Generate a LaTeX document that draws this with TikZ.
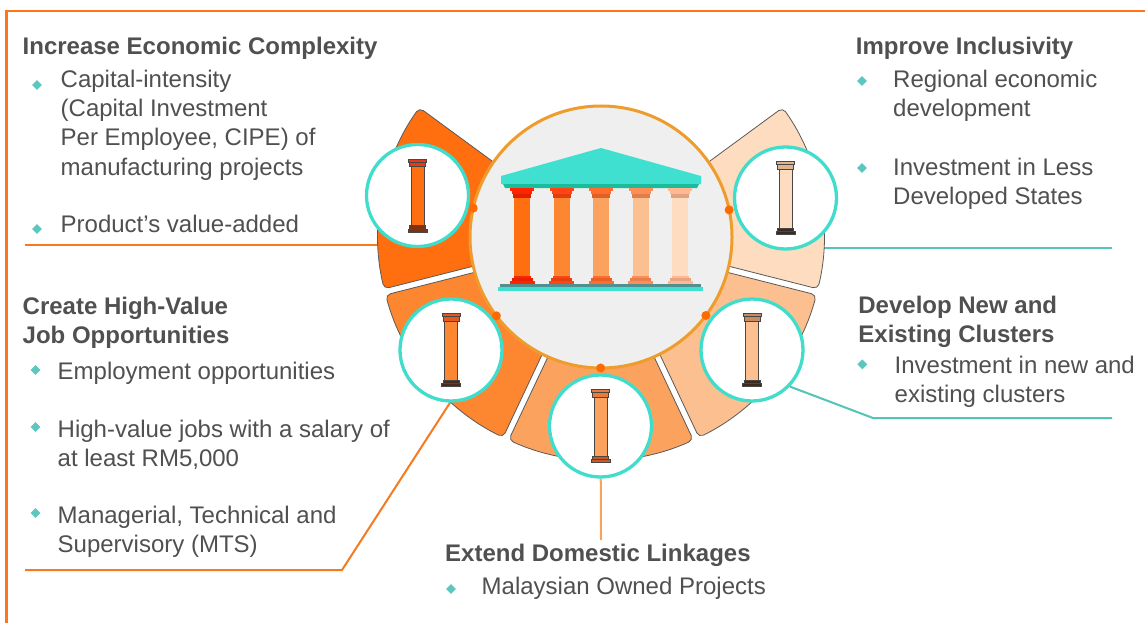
\documentclass[tikz,border=0pt]{standalone}
\usepackage{fontspec}
\setmainfont{Liberation Sans}
\usetikzlibrary{shapes.geometric,calc}
\pgfdeclarelayer{bg}
\pgfsetlayers{bg,main}

\definecolor{txt}{HTML}{505050}
\definecolor{frameor}{HTML}{FF7518}
\definecolor{lineor}{HTML}{F57A22}
\definecolor{lineltor}{HTML}{F9A35A}
\definecolor{lineteal}{HTML}{50C5B8}
\definecolor{bullet}{HTML}{5CC6BF}
\definecolor{hubring}{HTML}{EE9C2C}
\definecolor{hubfill}{HTML}{EFEFEF}
\definecolor{ring}{HTML}{40DDCC}
\definecolor{dot}{HTML}{FF6A00}
\definecolor{segedge}{HTML}{5A5A5A}
\definecolor{segA}{HTML}{FF6F0F}
\definecolor{segB}{HTML}{FD8630}
\definecolor{segC}{HTML}{FCA25F}
\definecolor{segD}{HTML}{FCBF8F}
\definecolor{segE}{HTML}{FDDCBF}
\definecolor{roof}{HTML}{40E0D0}
\definecolor{roofdk}{HTML}{1ABC9C}
\definecolor{plinth}{HTML}{4F9090}
\definecolor{capA}{HTML}{FF2400}
\definecolor{capB}{HTML}{FF4612}
\definecolor{capC}{HTML}{FF6C2C}
\definecolor{capD}{HTML}{FF8E56}
\definecolor{capE}{HTML}{FFB892}
\definecolor{icapA}{HTML}{E8381A}
\definecolor{icapB}{HTML}{E45A1E}
\definecolor{icapC}{HTML}{EE7A3A}
\definecolor{icapD}{HTML}{C88A62}
\definecolor{icapE}{HTML}{E2B48E}
\definecolor{ibaseA}{HTML}{7A3412}
\definecolor{ibaseB}{HTML}{4A2C1A}
\definecolor{ibaseC}{HTML}{C85A22}
\definecolor{ibaseD}{HTML}{3C2A20}
\definecolor{ibaseE}{HTML}{3A2C24}

% one column of the temple: centre x, shaft colour, capital colour
\newcommand\templecol[3]{%
  \fill[#2] ({#1-8},197.5) rectangle ({#1+8},276);
  \fill[#3] ({#1-12},187.7) rectangle ({#1+12},191);
  \fill[#3] ({#1-10},191) rectangle ({#1+10},194.3);
  \fill[#3!88!black] ({#1-9},194.3) rectangle ({#1+9},197.7);
  \fill[#3] ({#1-8.5},276) rectangle ({#1+8.5},278);
  \fill[#3!90!black] ({#1-10.5},278) rectangle ({#1+10.5},281);
  \fill[#3] ({#1-12.5},281) rectangle ({#1+12.5},284);
}

% small pillar icon inside a ring: node, shaft, capital, base colours
\newcommand\pillaricon[4]{%
  \begin{scope}[shift={(#1)}]
    \draw[pedge, fill=#2] (-6.5,-29) rectangle (6.5,30);
    \draw[pedge, fill=#3] (-8,-33.5) rectangle (8,-29);
    \draw[pedge, fill=#3] (-9,-36.5) rectangle (9,-33.5);
    \draw[pedge, fill=#4] (-8,30) rectangle (8,33.5);
    \draw[pedge, fill=#4] (-9.5,33.5) rectangle (9.5,36.5);
  \end{scope}
}

% annular sector of the outer ring: start angle, end angle, colour
\newcommand\ringsector[3]{%
  \draw[segline, fill=#3] (#1+0.8:223) arc[start angle=#1+0.8, end angle=#2-0.8, radius=223]
    -- (#2-1.8:100) arc[start angle=#2-1.8, end angle=#1+1.8, radius=100] -- cycle;
}

\begin{document}
\begin{tikzpicture}[x=1pt, y=-1pt,
  body/.style={anchor=base west, inner sep=0pt, text=txt, font=\fontsize{24}{29}\selectfont},
  head/.style={body, font=\fontsize{24}{29}\selectfont\bfseries},
  bul/.style={diamond, fill=bullet, inner sep=0pt, minimum size=10pt},
  hub/.style={circle, draw=hubring, line width=3pt, fill=hubfill, minimum size=262pt, inner sep=0pt},
  pcirc/.style={circle, draw=ring, line width=3.3pt, fill=white, minimum size=102pt, inner sep=0pt},
  pedge/.style={draw=black!72, line width=0.7pt},
  segline/.style={draw=segedge, line width=0.8pt, rounded corners=5pt},
  frame/.style={draw=frameor, line width=2.6pt},
  oline/.style={draw=lineor, line width=2pt},
  oline2/.style={draw=lineltor, line width=2pt},
  tline/.style={draw=lineteal, line width=2pt},
  ringdot/.style={fill=dot}
]
\useasboundingbox (0,0) rectangle (1145,623);

% outer frame
\draw[frame] (1145,11) -- (6.5,11) -- (6.5,623);

% central disc with the temple
\node[hub] (cc) at (601,237) {};
\fill[roof] (501,184) -- (501,176) -- (601,148) -- (701,176) -- (701,184) -- cycle;
\fill[roofdk] (503,184) -- (699,184) -- (697,188) -- (505,188) -- cycle;
\templecol{522}{segA}{capA}
\templecol{561.5}{segB}{capB}
\templecol{601}{segC}{capC}
\templecol{640.5}{segD}{capD}
\templecol{680}{segE}{capE}
\fill[plinth] (500,284) rectangle (701,286.8);
\fill[roof] (498,286.8) rectangle (703,290.8);

% pillar rings
\node[pcirc] (tl) at (417.5,195.5) {};
\node[pcirc] (ll) at (451,350) {};
\node[pcirc] (bc) at (600.5,426) {};
\node[pcirc] (rl) at (752,350) {};
\node[pcirc] (tr) at (785.5,198) {};
\pillaricon{tl}{segA}{icapA}{ibaseA}
\pillaricon{ll}{segB}{icapB}{ibaseB}
\pillaricon{bc}{segC}{icapC}{ibaseC}
\pillaricon{rl}{segD}{icapD}{ibaseD}
\pillaricon{tr}{segE}{icapE}{ibaseE}

% joints on the central ring
\coordinate (dtl) at ($(cc)!131pt!(tl)$);
\coordinate (dll) at ($(cc)!131pt!(ll)$);
\coordinate (dbc) at ($(cc)!131pt!(bc)$);
\coordinate (drl) at ($(cc)!131pt!(rl)$);
\coordinate (dtr) at ($(cc)!131pt!(tr)$);
\foreach \d in {dtl,dll,dbc,drl,dtr} \fill[ringdot] (\d) circle[radius=4.5];

% Increase Economic Complexity
\node[head] (h1) at (22.5,54.5) {Increase Economic Complexity};
\node[bul] (b11) at (37,85) {};
\node[body] (t11) at (60.5,88) {Capital-intensity};
\node[body] (t12) at (60.5,117) {(Capital Investment};
\node[body] (t13) at (60.5,146) {Per Employee, CIPE) of};
\node[body] (t14) at (60.5,175) {manufacturing projects};
\node[bul] (b12) at (37,229) {};
\node[body] (t15) at (60.5,232) {Product’s value-added};

% Create High-Value Job Opportunities
\node[head] (h2a) at (22.5,314) {Create High-Value};
\node[head] (h2b) at (22.5,343) {Job Opportunities};
\node[bul] (b21) at (35.5,370) {};
\node[body] (t21) at (57.5,379) {Employment opportunities};
\node[bul] (b22) at (35.5,427) {};
\node[body] (t22) at (57.5,437) {High-value jobs with a salary of};
\node[body] (t23) at (57.5,466) {at least RM5,000};
\node[bul] (b23) at (35.5,513) {};
\node[body] (t24) at (57.5,523) {Managerial, Technical and};
\node[body] (t25) at (57.5,552) {Supervisory (MTS)};

% Improve Inclusivity
\node[head] (h3) at (855.7,55) {Improve Inclusivity};
\node[bul] (b31) at (862,81) {};
\node[body] (t31) at (893,88) {Regional economic};
\node[body] (t32) at (893,117) {development};
\node[bul] (b32) at (862,168) {};
\node[body] (t33) at (893,175) {Investment in Less};
\node[body] (t34) at (893,204) {Developed States};

% Develop New and Existing Clusters
\node[head] (h4a) at (858.2,313) {Develop New and};
\node[head] (h4b) at (858.2,342.3) {Existing Clusters};
\node[bul] (b41) at (862.3,364.3) {};
\node[body] (t41) at (894.5,373.5) {Investment in new and};
\node[body] (t42) at (894.5,402.5) {existing clusters};

% Extend Domestic Linkages
\node[head] (h5) at (445,561) {Extend Domestic Linkages};
\node[bul] (b51) at (451,589) {};
\node[body] (t51) at (481.5,594) {Malaysian Owned Projects};

% connectors and the segmented ring, beneath everything else
\begin{pgfonlayer}{bg}
  \fill[white] (0,0) rectangle (1145,623);
  \coordinate (l1a) at (25,245);
  \draw[oline] (l1a) -- (l1a -| tl);
  \coordinate (l2a) at (25,570);
  \coordinate (l2b) at (342,570);
  \draw[oline] (l2a) -- (l2b) -- (ll.-91);
  \coordinate (l3) at (601,540);
  \draw[oline2] (bc) -- (l3);
  \coordinate (l4) at (1112,248);
  \draw[tline] (l4) -- (l4 -| tr);
  \coordinate (l5a) at (873,418);
  \coordinate (l5b) at (1112,418);
  \draw[tline] (rl.-44) -- (l5a) -- (l5b);
  \begin{scope}[shift={(601,237)}]
    \ringsector{165.75}{216.25}{segA}
    \ringsector{115.25}{165.75}{segB}
    \ringsector{64.75}{115.25}{segC}
    \ringsector{14.25}{64.75}{segD}
    \ringsector{-36.25}{14.25}{segE}
  \end{scope}
\end{pgfonlayer}
\end{tikzpicture}
\end{document}
